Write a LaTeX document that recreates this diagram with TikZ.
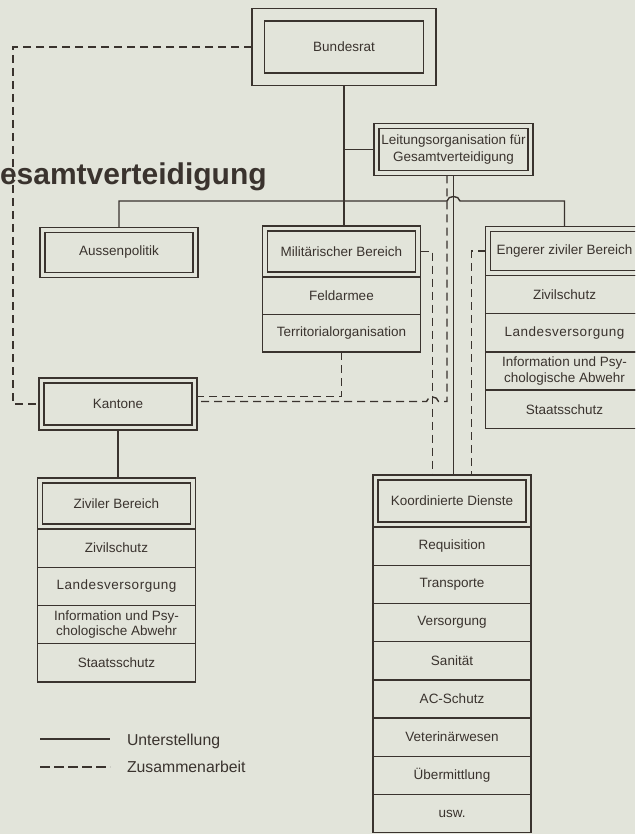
\documentclass[tikz,border=0pt]{standalone}
\usepackage{fontspec}
\setmainfont{Liberation Sans}
\usetikzlibrary{fit,positioning,calc}
\definecolor{ink}{RGB}{58,51,46}
\definecolor{paper}{RGB}{226,228,218}
\newcommand{\boxfont}{\fontsize{13.5}{15.5}\selectfont}
\begin{document}
\begin{tikzpicture}[x=1pt,y=-1pt,
  every node/.style={outer sep=0pt, text=ink},
  ln/.style={draw=ink, line width=1.4pt},
  dsh/.style={ln, dash pattern=on 8pt off 5pt},
  inbox/.style={ln, rectangle, inner sep=0pt, align=center, font=\boxfont},
  frm/.style={ln, rectangle, inner sep=5pt},
  rowbox/.style={ln, rectangle, minimum width=158pt, minimum height=38.2pt, inner sep=0pt, align=center, font=\boxfont},
  lsp/.style={font=\boxfont\addfontfeature{LetterSpace=4}},
]
\fill[paper] (0,0) rectangle (635,834);
\useasboundingbox (0,0) rectangle (635,834);
\clip (0,0) rectangle (635,834);

% title (cut at the page edge in the original)
\node[anchor=base west, inner sep=0pt, font=\fontsize{30}{36}\selectfont\bfseries] (title) at (0,185) {esamtverteidigung};

% Bundesrat
\node[inbox, minimum width=159pt, minimum height=52pt] (bund) at (344,47) {Bundesrat};
\node[frm, inner sep=12.5pt, fit=(bund)] (bundF) {};

% Leitungsorganisation
\node[inbox, minimum width=149pt, minimum height=42pt, font=\fontsize{13.5}{17}\selectfont] (leit) at (453.5,149.5) {Leitungsorganisation für\\Gesamtverteidigung};
\node[frm, fit=(leit)] (leitF) {};

% Aussenpolitik
\node[inbox, minimum width=148pt, minimum height=40pt] (aussen) at (119,252.5) {Aussenpolitik};
\node[frm, fit=(aussen)] (aussenF) {};

% Militaerischer Bereich
\node[inbox, minimum width=148pt, minimum height=41pt] (mil) at (341.5,251.5) {Militärischer Bereich};
\node[frm, fit=(mil)] (milF) {};
\node[rowbox, minimum height=37.5pt, below=0pt of milF] (feld) {Feldarmee};
\node[rowbox, minimum height=37.5pt, below=0pt of feld] (terr) {Territorialorganisation};

% Engerer ziviler Bereich
\node[inbox, minimum width=148pt, minimum height=39pt] (eng) at (564.5,251) {Engerer ziviler Bereich};
\node[frm, fit=(eng)] (engF) {};
\node[rowbox, below=0pt of engF] (ez) {Zivilschutz};
\node[rowbox, lsp, below=0pt of ez] (el) {Landesversorgung};
\node[rowbox, below=0pt of el] (ei) {Information und Psy-\\chologische Abwehr};
\node[rowbox, below=0pt of ei] (es) {Staatsschutz};

% Kantone
\node[inbox, minimum width=148pt, minimum height=42pt] (kant) at (118,404) {Kantone};
\node[frm, fit=(kant)] (kantF) {};

% Ziviler Bereich
\node[inbox, minimum width=148pt, minimum height=41pt] (ziv) at (116.5,503.5) {Ziviler Bereich};
\node[frm, fit=(ziv)] (zivF) {};
\node[rowbox, below=0pt of zivF] (zz) {Zivilschutz};
\node[rowbox, lsp, below=0pt of zz] (zl) {Landesversorgung};
\node[rowbox, below=0pt of zl] (zi) {Information und Psy-\\chologische Abwehr};
\node[rowbox, below=0pt of zi] (zs) {Staatsschutz};

% Koordinierte Dienste
\node[inbox, minimum width=148pt, minimum height=42pt] (kd) at (452,501) {Koordinierte Dienste};
\node[frm, fit=(kd)] (kdF) {};
\node[rowbox, below=0pt of kdF] (k1) {Requisition};
\node[rowbox, below=0pt of k1] (k2) {Transporte};
\node[rowbox, below=0pt of k2] (k3) {Versorgung};
\node[rowbox, below=0pt of k3] (k4) {Sanität};
\node[rowbox, below=0pt of k4] (k5) {AC-Schutz};
\node[rowbox, below=0pt of k5] (k6) {Veterinärwesen};
\node[rowbox, below=0pt of k6] (k7) {Übermittlung};
\node[rowbox, below=0pt of k7] (k8) {usw.};

% helper coordinates
\coordinate (busy) at (0,201);
\coordinate (kl) at (0,401.5);
\coordinate (ku) at (0,396.5);
\coordinate (lft) at (13,0);
\coordinate (mx) at ($(milF.east)+(12,0)$);
\coordinate (ex) at ($(engF.west)+(-14,0)$);
\coordinate (lx) at ($(leitF.south)+(-6.5,0)$);
\coordinate (hopc) at (leitF.south |- busy);
\coordinate (hopk) at (mx |- kl);

% solid connectors (Unterstellung)
\draw[ln] (bundF.south) -- (bundF.south |- milF.north);
\draw[ln] (leitF.west) -- (leitF.west -| bundF.south);
\draw[ln] (aussenF.north) -- (aussenF.north |- busy) -- ($(hopc)+(-6.5,0)$)
  .. controls ($(hopc)+(-5.5,-6)$) and ($(hopc)+(5.5,-6)$) .. ($(hopc)+(6.5,0)$)
  -- (engF.north |- busy) -- (engF.north);
\draw[ln] (leitF.south) -- (leitF.south |- kdF.north);
\draw[ln] (kantF.south) -- (kantF.south |- zivF.north);

% dashed connectors (Zusammenarbeit)
\draw[dsh] (bundF.west) -- (lft |- bundF.west) -- (lft |- kantF.west) -- (kantF.west);
\draw[dsh] (milF.east) -- (mx) -- (mx |- kdF.north);
\draw[dsh] (engF.west) -- (ex) -- (ex |- kdF.north);
\draw[dsh] (lx) -- (lx |- kl) -- ($(hopk)+(6,0)$)
  .. controls ($(hopk)+(5,-6)$) and ($(hopk)+(-5,-6)$) .. ($(hopk)+(-6,0)$)
  -- (kantF.east |- kl);
\draw[dsh] (terr.south) -- (terr.south |- ku) -- (kantF.east |- ku);

% legend
\coordinate (lg1a) at (40,739);
\coordinate (lg1b) at (110,739);
\coordinate (lg2a) at (40,767);
\coordinate (lg2b) at (110,767);
\draw[ln] (lg1a) -- (lg1b);
\draw[ln, dash pattern=on 10pt off 4pt] (lg2a) -- (lg2b);
\node[anchor=base west, inner sep=0pt, font=\fontsize{15.8}{18}\selectfont] (lgt1) at (127,745) {Unterstellung};
\node[anchor=base west, inner sep=0pt, font=\fontsize{15.8}{18}\selectfont] (lgt2) at (127,772) {Zusammenarbeit};
\end{tikzpicture}
\end{document}
